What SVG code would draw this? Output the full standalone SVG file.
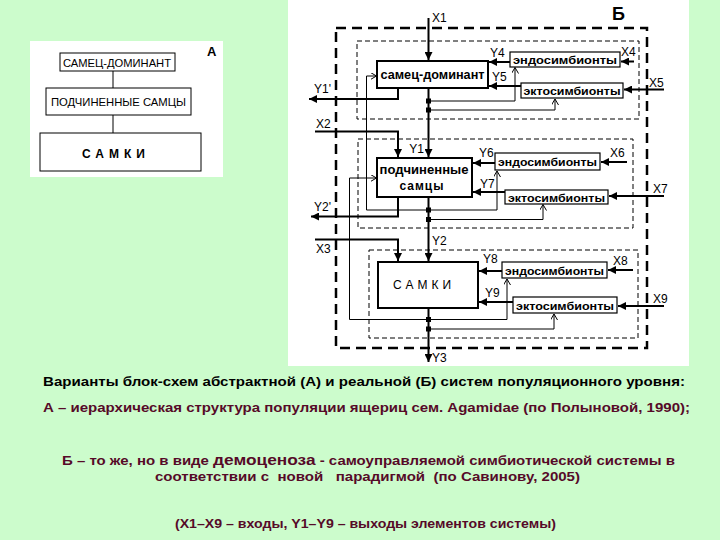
<svg xmlns="http://www.w3.org/2000/svg" width="720" height="540" viewBox="0 0 720 540">
<style>
.bg{fill:#ccfccc}
.pnl{fill:#ffffff}
.box{fill:#ffffff;stroke:#000;stroke-width:1}
.mbox{fill:#ffffff;stroke:#000;stroke-width:2}
.sbox{fill:#ffffff;stroke:#000;stroke-width:1.2}
.outer{fill:none;stroke:#000;stroke-width:2.5;stroke-dasharray:10 6}
.inner{fill:none;stroke:#000;stroke-width:1;stroke-dasharray:5 3}
.thick{fill:none;stroke:#000;stroke-width:2}
.thin{fill:none;stroke:#000;stroke-width:1}
.lab{font-family:"Liberation Sans",Arial,sans-serif;font-size:12px;fill:#000}
.bt{font-family:"Liberation Sans",Arial,sans-serif;font-weight:bold;fill:#000}
.at{font-family:"Liberation Sans",Arial,sans-serif;font-size:11px;fill:#000}
.cap{font-family:"Liberation Sans",Arial,sans-serif;font-weight:bold;font-size:13px}
</style>
<defs>
<marker id="fa" markerUnits="userSpaceOnUse" markerWidth="9" markerHeight="8" refX="8" refY="4" orient="auto">
<path d="M0,0 L8,4 L0,8 z" fill="#000"/>
</marker>
<marker id="oa" markerUnits="userSpaceOnUse" markerWidth="8" markerHeight="8" refX="6" refY="3.5" orient="auto">
<path d="M0,0 L6,3.5 L0,7" fill="none" stroke="#000" stroke-width="1"/>
</marker>
</defs>
<rect class="bg" x="0" y="0" width="720" height="540"/>
<rect class="pnl" x="30" y="41" width="193" height="136"/>
<rect class="pnl" x="288" y="0" width="401" height="366"/>

<!-- Panel A -->
<g id="panelA">
<text class="bt" x="207" y="56" font-size="13">А</text>
<line class="thin" x1="113" y1="71" x2="113" y2="88"/>
<line class="thin" x1="113" y1="115" x2="113" y2="133"/>
<g id="a-dominant">
<rect class="box" x="60" y="53" width="115" height="18"/>
<text class="at" x="117" y="66.5" text-anchor="middle" textLength="108" lengthAdjust="spacingAndGlyphs">САМЕЦ-ДОМИНАНТ</text>
</g>
<g id="a-subordinate">
<rect class="box" x="46" y="88" width="145" height="27"/>
<text class="at" x="118.5" y="106" text-anchor="middle" textLength="135" lengthAdjust="spacingAndGlyphs">ПОДЧИНЕННЫЕ САМЦЫ</text>
</g>
<g id="a-females">
<rect class="box" x="40" y="133" width="161" height="38"/>
<text class="bt" x="116" y="158" font-size="12" text-anchor="middle" letter-spacing="5">САМКИ</text>
</g>
</g>

<!-- Panel B frames -->
<g id="frames">
<rect class="outer" x="336" y="28" width="311" height="320"/>
<rect class="inner" x="357" y="41" width="282" height="78"/>
<rect class="inner" x="358" y="139" width="275" height="89"/>
<rect class="inner" x="369" y="250" width="269" height="88"/>
</g>
<text class="bt" x="612" y="20" font-size="18">Б</text>

<!-- connectors -->
<g id="connectors">
<path class="thick" d="M428.5,18 V60" marker-end="url(#fa)"/>
<path class="thick" d="M428.5,88 V157" marker-end="url(#fa)"/>
<path class="thick" d="M428.5,197 V261" marker-end="url(#fa)"/>
<path class="thick" d="M428.5,308 V362" marker-end="url(#fa)"/>
<path class="thick" d="M398,88 V99 H309" marker-end="url(#fa)"/>
<path class="thick" d="M315,131.5 H398 V157" marker-end="url(#fa)"/>
<path class="thick" d="M398,197 V216.5 H311" marker-end="url(#fa)"/>
<path class="thick" d="M315,239.5 H398 V261" marker-end="url(#fa)"/>

<path class="thick" d="M510,62 H489" marker-end="url(#fa)"/>
<path class="thick" d="M521,86 H489" marker-end="url(#fa)"/>
<path class="thick" d="M634,61.5 H621" marker-end="url(#fa)"/>
<path class="thick" d="M664,89.5 H624" marker-end="url(#fa)"/>

<path class="thick" d="M495,163 H473" marker-end="url(#fa)"/>
<path class="thick" d="M505,192 H473" marker-end="url(#fa)"/>
<path class="thick" d="M627,162 H601" marker-end="url(#fa)"/>
<path class="thick" d="M664,196 H609" marker-end="url(#fa)"/>

<path class="thick" d="M502,271 H479" marker-end="url(#fa)"/>
<path class="thick" d="M513,302 H479" marker-end="url(#fa)"/>
<path class="thick" d="M633,270 H608" marker-end="url(#fa)"/>
<path class="thick" d="M664,306 H618" marker-end="url(#fa)"/>

<path class="thin" d="M428.5,101 H515 V67.5" marker-end="url(#oa)"/>
<path class="thin" d="M428.5,110 H555 V99" marker-end="url(#oa)"/>
<path class="thin" d="M366.5,210 V76 H376.5" marker-end="url(#oa)"/>
<path class="thin" d="M366.5,210 H497 V171" marker-end="url(#oa)"/>
<path class="thin" d="M428.5,219.5 H543 V204.5" marker-end="url(#oa)"/>
<path class="thin" d="M349.5,319.5 V178 H376.5" marker-end="url(#oa)"/>
<path class="thin" d="M349.5,319.5 H507 V279" marker-end="url(#oa)"/>
<path class="thin" d="M428.5,329 H554 V314" marker-end="url(#oa)"/>

<rect x="426" y="98.5" width="5" height="5"/>
<rect x="426" y="107.5" width="5" height="5"/>
<rect x="426" y="207.5" width="5" height="5"/>
<rect x="426" y="217" width="5" height="5"/>
<rect x="426" y="317" width="5" height="5"/>
<rect x="426" y="326.5" width="5" height="5"/>
</g>

<!-- labels -->
<g id="labels">
<text class="lab" x="432" y="22">X1</text>
<text class="lab" x="424" y="153" text-anchor="end">Y1</text>
<text class="lab" x="432" y="245">Y2</text>
<text class="lab" x="432" y="362">Y3</text>
<text class="lab" x="314" y="93">Y1'</text>
<text class="lab" x="316" y="128">X2</text>
<text class="lab" x="314" y="211">Y2'</text>
<text class="lab" x="316" y="253">X3</text>
<text class="lab" x="490" y="57">Y4</text>
<text class="lab" x="492" y="81">Y5</text>
<text class="lab" x="621" y="56">X4</text>
<text class="lab" x="649" y="87">X5</text>
<text class="lab" x="479" y="157">Y6</text>
<text class="lab" x="480" y="188">Y7</text>
<text class="lab" x="610" y="157">X6</text>
<text class="lab" x="653" y="193">X7</text>
<text class="lab" x="483" y="263">Y8</text>
<text class="lab" x="485" y="297">Y9</text>
<text class="lab" x="613" y="265">X8</text>
<text class="lab" x="653" y="303">X9</text>
</g>

<!-- nodes -->
<g id="b-dominant">
<rect class="mbox" x="377" y="61" width="111" height="27"/>
<text class="bt" x="432.5" y="79" font-size="12" text-anchor="middle" textLength="104" lengthAdjust="spacingAndGlyphs">самец-доминант</text>
</g>
<g id="b-subordinate">
<rect class="mbox" x="377" y="158" width="95" height="39"/>
<text class="bt" x="424" y="174" font-size="12" text-anchor="middle" textLength="89" lengthAdjust="spacingAndGlyphs">подчиненные</text>
<text class="bt" x="422" y="190" font-size="12" text-anchor="middle" letter-spacing="1">самцы</text>
</g>
<g id="b-females">
<rect class="mbox" x="378" y="262" width="100" height="46"/>
<text class="lab" x="424" y="289" font-size="12" text-anchor="middle" letter-spacing="4">САМКИ</text>
</g>
<g id="endo1">
<rect class="sbox" x="510" y="52" width="110" height="15"/>
<text class="bt" x="565" y="64" font-size="11" text-anchor="middle" textLength="104" lengthAdjust="spacingAndGlyphs">эндосимбионты</text>
</g>
<g id="ecto1">
<rect class="sbox" x="521" y="83" width="102" height="15"/>
<text class="bt" x="572" y="95" font-size="11" text-anchor="middle" textLength="97" lengthAdjust="spacingAndGlyphs">эктосимбионты</text>
</g>
<g id="endo2">
<rect class="sbox" x="495" y="153" width="105" height="17"/>
<text class="bt" x="547.5" y="166" font-size="11" text-anchor="middle" textLength="99" lengthAdjust="spacingAndGlyphs">эндосимбионты</text>
</g>
<g id="ecto2">
<rect class="sbox" x="505" y="190" width="103" height="14"/>
<text class="bt" x="556.5" y="201.5" font-size="11" text-anchor="middle" textLength="97" lengthAdjust="spacingAndGlyphs">эктосимбионты</text>
</g>
<g id="endo3">
<rect class="sbox" x="502" y="262" width="105" height="16"/>
<text class="bt" x="554.5" y="274.5" font-size="11" text-anchor="middle" textLength="99" lengthAdjust="spacingAndGlyphs">эндосимбионты</text>
</g>
<g id="ecto3">
<rect class="sbox" x="513" y="297" width="104" height="16"/>
<text class="bt" x="565" y="309.5" font-size="11" text-anchor="middle" textLength="98" lengthAdjust="spacingAndGlyphs">эктосимбионты</text>
</g>

<!-- caption -->
<g id="caption">
<text class="cap" x="43" y="386" fill="#000" textLength="642" lengthAdjust="spacingAndGlyphs">Варианты блок-схем абстрактной (А) и реальной (Б) систем популяционного уровня:</text>
<text class="cap" x="43" y="412" fill="#560a28" textLength="647" lengthAdjust="spacingAndGlyphs">А – иерархическая структура популяции ящериц сем. Agamidae (по Полыновой, 1990);</text>
<text class="cap" x="62" y="465" fill="#560a28" textLength="613" lengthAdjust="spacingAndGlyphs">Б – то же, но в виде <tspan font-size="15">демоценоза</tspan> - самоуправляемой симбиотической системы в</text>
<text class="cap" x="155" y="481" fill="#560a28" textLength="425" lengthAdjust="spacingAndGlyphs" xml:space="preserve">соответствии с  новой   парадигмой  (по Савинову, 2005)</text>
<text class="cap" x="175" y="528" fill="#560a28" textLength="381" lengthAdjust="spacingAndGlyphs">(X1–X9 – входы, Y1–Y9 – выходы элементов системы)</text>
</g>
</svg>
